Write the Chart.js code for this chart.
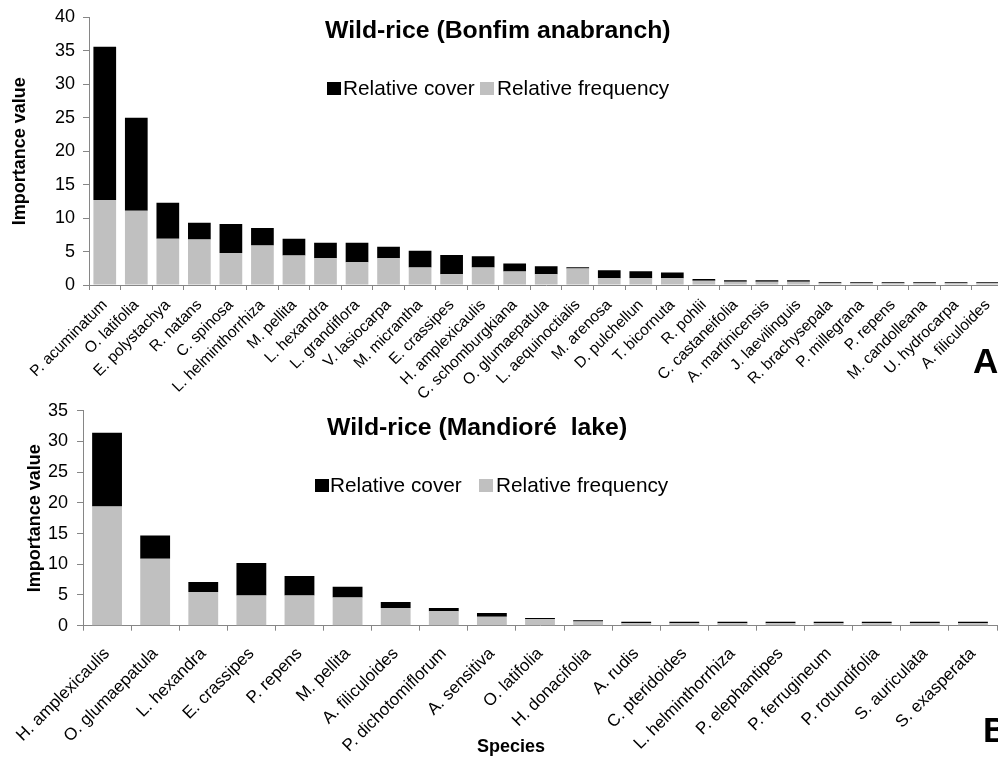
<!DOCTYPE html>
<html>
<head>
<meta charset="utf-8">
<script src="https://cdn.jsdelivr.net/npm/chart.js@4.4.0/dist/chart.umd.min.js"></script>
<style>
  html, body { margin: 0; padding: 0; background: #fff; overflow: hidden; }
  #wrap { position: relative; width: 998px; height: 760px; overflow: hidden; }
  #chartA { position: absolute; left: 0; top: 0; }
  #chartB { position: absolute; left: 0; top: 380px; }
</style>
</head>
<body>
<div id="wrap">
  <canvas id="chartA" width="1004" height="400"></canvas>
  <canvas id="chartB" width="998" height="380"></canvas>
</div>
<script>
// Panel A - Wild-rice (Bonfim anabranch)
const speciesA = ['P. acuminatum', 'O. latifolia', 'E. polystachya', 'R. natans', 'C. spinosa',
  'L. helminthorrhiza', 'M. pellita', 'L. hexandra', 'L. grandiflora', 'V. lasiocarpa',
  'M. micrantha', 'E. crassipes', 'H. amplexicaulis', 'C. schomburgkiana', 'O. glumaepatula',
  'L. aequinoctialis', 'M. arenosa', 'D. pulchellun', 'T. bicornuta', 'R. pohlii',
  'C. castaneifolia', 'A. martinicensis', 'J. laevilinguis', 'R. brachysepala', 'P. millegrana',
  'P. repens', 'M. candolleana', 'U. hydrocarpa', 'A. filiculoides'];
const freqA = [12.7, 11.1, 6.9, 6.8, 4.8, 5.9, 4.4, 4.0, 3.4, 4.0, 2.6, 1.6, 2.6, 2.0, 1.6,
  2.45, 1.0, 1.0, 1.0, 0.65, 0.5, 0.5, 0.5, 0.25, 0.25, 0.25, 0.25, 0.25, 0.25];
const coverA = [22.9, 13.9, 5.4, 2.5, 4.3, 2.6, 2.5, 2.3, 2.9, 1.7, 2.5, 2.9, 1.7, 1.2, 1.2,
  0.2, 1.2, 1.05, 0.85, 0.25, 0.2, 0.2, 0.2, 0.15, 0.15, 0.15, 0.15, 0.15, 0.15];

// Panel B - Wild-rice (Mandioré lake)
const speciesB = ['H. amplexicaulis', 'O. glumaepatula', 'L. hexandra', 'E. crassipes', 'P. repens',
  'M. pellita', 'A. filiculoides', 'P. dichotomiflorum', 'A. sensitiva', 'O. latifolia',
  'H. donacifolia', 'A. rudis', 'C. pteridoides', 'L. helminthorrhiza', 'P. elephantipes',
  'P. ferrugineum', 'P. rotundifolia', 'S. auriculata', 'S. exasperata'];
const freqB = [19.4, 10.9, 5.5, 4.9, 4.9, 4.6, 2.9, 2.35, 1.45, 1.05, 0.7, 0.4, 0.4, 0.4, 0.4,
  0.4, 0.4, 0.4, 0.4];
const coverB = [12.0, 3.8, 1.6, 5.3, 3.2, 1.75, 0.95, 0.55, 0.6, 0.2, 0.2, 0.25, 0.25, 0.25, 0.25,
  0.25, 0.25, 0.25, 0.25];

const FONT = "'Liberation Sans', Arial, Helvetica, sans-serif";
const AXIS_GREY = '#868686';

// titles, legend and panel letters sit inside the plot, so draw them by hand
const decorPlugin = {
  id: 'decor',
  afterDraw(chart, args, o) {
    const ctx = chart.ctx;
    const ds = chart.data.datasets;
    ctx.save();
    ctx.textAlign = 'left';
    ctx.textBaseline = 'alphabetic';
    ctx.fillStyle = '#000';
    ctx.font = 'bold 24.8px ' + FONT;
    ctx.fillText(o.title, o.titleX, o.titleY);

    ctx.font = '20.8px ' + FONT;
    [1, 0].forEach((di, k) => {
      ctx.fillStyle = ds[di].backgroundColor;
      ctx.fillRect(o.boxX[k], o.legendY - 13, 14, 13);
      ctx.fillStyle = '#000';
      ctx.fillText(ds[di].label, o.textX[k], o.legendY);
    });

    ctx.font = 'bold 35px ' + FONT;
    ctx.fillText(o.letter, o.letterX, o.letterY);

    if (o.xTitle) {
      ctx.font = 'bold 18px ' + FONT;
      ctx.textAlign = 'center';
      ctx.fillText(o.xTitle, o.xTitleX, o.xTitleY);
    }
    ctx.restore();
  }
};

function makeChart(id, labels, freq, cover, cfg) {
  return new Chart(document.getElementById(id), {
    type: 'bar',
    data: {
      labels: labels,
      datasets: [
        { label: 'Relative frequency', data: freq, backgroundColor: '#c0c0c0', borderWidth: 0 },
        { label: 'Relative cover', data: cover, backgroundColor: '#000000', borderWidth: 0 }
      ]
    },
    options: {
      responsive: false,
      animation: false,
      layout: { padding: { top: cfg.top, left: 0, right: cfg.right, bottom: 0 } },
      datasets: { bar: { barPercentage: cfg.barPct, categoryPercentage: 1 } },
      scales: {
        x: {
          stacked: true,
          offset: true,
          grid: { display: true, offset: true, drawOnChartArea: false, drawTicks: true,
                  tickLength: 5, color: AXIS_GREY },
          border: { color: AXIS_GREY, width: 1 },
          ticks: { autoSkip: false, minRotation: 45, maxRotation: 45, padding: cfg.xPad,
                   color: '#000', font: { family: FONT, size: cfg.xFont } },
          afterFit: s => { s.height = cfg.xHeight; s.paddingLeft = 0; s.paddingRight = 0; }
        },
        y: {
          stacked: true,
          min: 0,
          max: cfg.yMax,
          grid: { display: true, drawOnChartArea: false, drawTicks: true, tickLength: 6, color: AXIS_GREY },
          border: { color: AXIS_GREY, width: 1 },
          ticks: { stepSize: 5, padding: cfg.yPad, color: '#000', font: { family: FONT, size: 18 } },
          title: { display: true, text: 'Importance value', color: '#000',
                   padding: { top: cfg.yTitlePad, bottom: 0 },
                   font: { family: FONT, size: 18, weight: 'bold' } },
          afterFit: s => { s.width = cfg.yWidth; s.paddingTop = 0; s.paddingBottom = 0; }
        }
      },
      plugins: {
        legend: { display: false },
        tooltip: { enabled: false },
        decor: cfg.decor
      }
    },
    plugins: [decorPlugin]
  });
}

makeChart('chartA', speciesA, freqA, coverA, {
  top: 17.3, right: 0.6, yMax: 40, yWidth: 89, xHeight: 115, barPct: 0.72,
  xPad: 6, xFont: 15.5, yPad: 8, yTitlePad: 9,
  decor: {
    title: 'Wild-rice (Bonfim anabranch)', titleX: 325, titleY: 38,
    legendY: 95, boxX: [327, 480], textX: [343, 497],
    letter: 'A', letterX: 973, letterY: 373
  }
});

makeChart('chartB', speciesB, freqB, coverB, {
  top: 30.7, right: 1, yMax: 35, yWidth: 83, xHeight: 134.3, barPct: 0.62,
  xPad: 13, xFont: 17, yPad: 9, yTitlePad: 24,
  decor: {
    title: 'Wild-rice (Mandioré  lake)', titleX: 327, titleY: 55,
    legendY: 112, boxX: [315, 479], textX: [330, 496],
    letter: 'B', letterX: 983, letterY: 362,
    xTitle: 'Species', xTitleX: 511, xTitleY: 372
  }
});
</script>
</body>
</html>
